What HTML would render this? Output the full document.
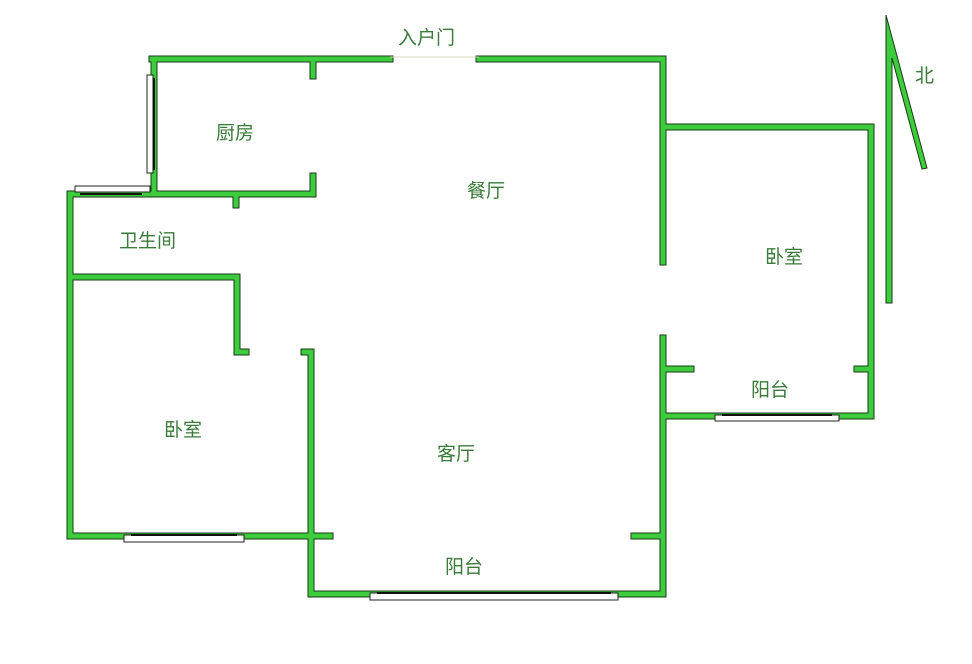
<!DOCTYPE html>
<html><head><meta charset="utf-8"><style>
body{margin:0;background:#fff;width:972px;height:664px;overflow:hidden}
svg{display:block}
text{font-family:"Liberation Sans","Noto Sans CJK SC",sans-serif;font-size:19px;fill:#3a7a3a}
</style></head><body>
<svg width="972" height="664" viewBox="0 0 972 664">
<g stroke="#1a3a1a" stroke-width="7" stroke-linecap="square" fill="none" id="o">
<path d="M152,59H390M479,59H663V262M663,338V594H311V352H304M154,59V192M70,194H313V176M313,59V76M236,194V205M70,194V536H330M70,277H237V352H246M663,127H871V416H663M663,369H691M857,369H871M663,536H634"/>
</g>
<g stroke="#3ccc3c" stroke-width="5" stroke-linecap="square" fill="none">
<path d="M152,59H390M479,59H663V262M663,338V594H311V352H304M154,59V192M70,194H313V176M313,59V76M236,194V205M70,194V536H330M70,277H237V352H246M663,127H871V416H663M663,369H691M857,369H871M663,536H634"/>
</g>
<line x1="390" y1="57" x2="479" y2="57" stroke="#d8d8b8" stroke-width="1"/>
<!-- windows -->
<g fill="#fff" stroke="#222" stroke-width="1">
<rect x="147" y="75" width="6" height="98"/>
<rect x="75" y="186" width="75" height="6"/>
<rect x="124" y="535" width="120" height="7"/>
<rect x="370" y="593" width="248" height="7"/>
<rect x="715" y="415" width="124" height="6"/>
</g>
<g stroke="#111" stroke-width="2">
<line x1="154" y1="78" x2="154" y2="170"/>
<line x1="80" y1="194" x2="142" y2="194"/>
<line x1="131" y1="535" x2="237" y2="535"/>
<line x1="377" y1="593" x2="611" y2="593"/>
<line x1="722" y1="415" x2="832" y2="415"/>
</g>
<polygon points="886,15 927,168 922,169 892,58 892,303 886,303" fill="#3ccc3c" stroke="#1a3a1a" stroke-width="1"/>
<text x="398" y="44">入户门</text>
<text x="216" y="139">厨房</text>
<text x="467" y="197">餐厅</text>
<text x="119" y="247">卫生间</text>
<text x="765" y="263">卧室</text>
<text x="751" y="396">阳台</text>
<text x="164" y="436">卧室</text>
<text x="437" y="460">客厅</text>
<text x="445" y="573">阳台</text>
<text x="915" y="82">北</text>
</svg>
</body></html>
